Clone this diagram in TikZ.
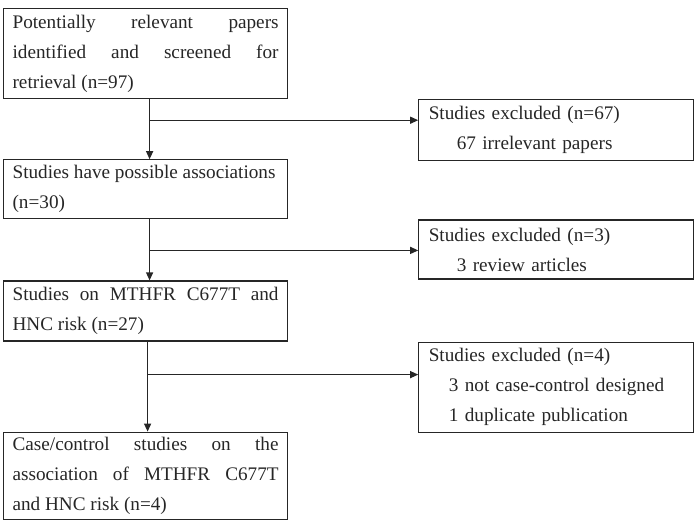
\documentclass[tikz,border=0pt]{standalone}
\usepackage{fontspec}
\setmainfont{Liberation Serif}
\usetikzlibrary{calc, positioning}
\usetikzlibrary{arrows.meta}
\def\gap{65pt}
\tikzset{
    stage/.style = {
        draw=black!85, rectangle, line width=0.6pt, text width=133pt, inner xsep=4.5pt, inner ysep=0pt,
        align=justify, text=black!85, font=\fontsize{9.6pt}{15pt}\selectfont
    },
    excluded/.style = {
        draw=black!85, rectangle, line width=0.6pt, text width=127.5pt, inner xsep=5pt, inner ysep=0pt,
        align=left, text=black!85, font=\fontsize{9.6pt}{15pt}\selectfont
    },
}
\begin{document}
\begin{tikzpicture}
        \useasboundingbox (0,0) rectangle (350pt,-263.5pt);
        \hyphenpenalty=10000
        \tolerance=10000

        % Place the blocks 
        \node[stage, minimum height=45pt, anchor=north west] (retrieval) at (1.5pt,-4pt)
            {Potentially relevant papers\linebreak identified and screened for\linebreak retrieval (n=97)};
        \node[stage, minimum height=29.5pt, below=30pt of retrieval] (possible)
            {Studies have possible associations\\ (n=30)};
        \node[stage, minimum height=30pt, below=30.5pt of possible] (risk)
            {Studies on MTHFR C677T and\linebreak HNC risk (n=27)};
        \node[stage, minimum height=43.5pt, below=45pt of risk] (included)
            {Case/control studies on the\linebreak association of MTHFR C677T\linebreak and HNC risk (n=4)};

        % Place the excluded blocks 
        \node[excluded, minimum height=30.5pt, below right=0pt and \gap of retrieval] (excla)
            {Studies excluded (n=67)\\ \hspace*{14pt}67 irrelevant papers};
        \node[excluded, minimum height=29.5pt, below right=0pt and \gap of possible] (exclb)
            {Studies excluded (n=3)\\ \hspace*{14pt}3 review articles};
        \node[excluded, minimum height=45pt, below right=0pt and \gap of risk] (exclc)
            {Studies excluded (n=4)\\ \hspace*{10pt}3 not case-control designed\\ \hspace*{10pt}1 duplicate publication};

        % Draw connections 
        \begin{scope}[line width=0.6pt, draw=black!85, >={Triangle[width=3.5pt,length=4pt]}]
            \draw[->] ([xshift=2pt]retrieval.south) -- ([xshift=2pt]possible.north);
            \draw[->] ([xshift=2pt]possible.south) -- ([xshift=2pt]risk.north);
            \draw[->] ([xshift=1pt]risk.south) -- ([xshift=1pt]included.north);
            \coordinate (ja) at ([xshift=2pt, yshift=-10.5pt]retrieval.south);
            \coordinate (jb) at ([xshift=2pt, yshift=-15.5pt]possible.south);
            \coordinate (jc) at ([xshift=1pt, yshift=-16.5pt]risk.south);
            \draw[->] (ja) -- (ja -| excla.west);
            \draw[->] (jb) -- (jb -| exclb.west);
            \draw[->] (jc) -- (jc -| exclc.west);
        \end{scope}
    \end{tikzpicture}
\end{document}
